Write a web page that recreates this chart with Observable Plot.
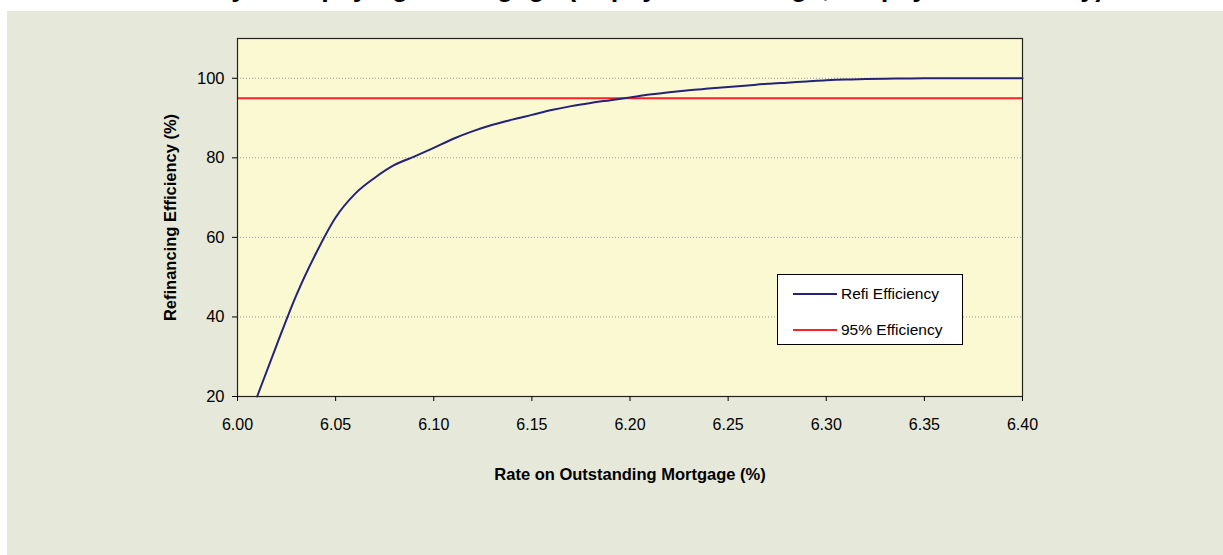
<!DOCTYPE html>
<html>
<head>
<meta charset="utf-8">
<script src="https://cdn.jsdelivr.net/npm/d3@7"></script>
<script src="https://cdn.jsdelivr.net/npm/@observablehq/plot@0.6"></script>
<style>
  html, body { margin: 0; padding: 0; background: #ffffff; }
  body { width: 1223px; height: 555px; position: relative; overflow: hidden; font-family: "Liberation Sans", Arial, sans-serif; }
  #title { position: absolute; left: 0; width: 1223px; top: -28px; line-height: 28px; text-align: center; font: bold 27px "Liberation Sans", Arial, sans-serif; color: #000; white-space: nowrap; }
  #panel { position: absolute; left: 7px; top: 11px; width: 1216px; height: 544px; background: #E6E9DA; }
  #panel svg { position: absolute; left: 0; top: 0; background: transparent; }
  g[aria-label="y-axis label"] text, g[aria-label="x-axis label"] text { font-weight: bold; font-size: 16.5px; }
  g[aria-label="y-axis tick label"] text { font-size: 16.5px; }
  g[aria-label="x-axis tick label"] text { font-size: 16px; }
  #legend { position: absolute; left: 770px; top: 263px; width: 186px; height: 71px; background: #fff; border: 1px solid #000; box-sizing: border-box; font: 15.5px "Liberation Sans", Arial, sans-serif; color: #000; }
  .lg { position: absolute; left: 15px; height: 18px; display: flex; align-items: center; }
  .lg span.sw { display: inline-block; width: 44px; height: 2px; margin-right: 4px; }
</style>
</head>
<body>
<div id="title">Efficiency of Repaying a Mortgage (Repayment Charge, Prepayment Penalty)</div>
<div id="panel"></div>
<script>
const rates = [6.01, 6.02, 6.03, 6.04, 6.05, 6.06, 6.07, 6.08, 6.09, 6.10,
               6.11, 6.12, 6.13, 6.14, 6.15, 6.16, 6.17, 6.18, 6.19, 6.20,
               6.21, 6.22, 6.23, 6.24, 6.25, 6.26, 6.27, 6.28, 6.29, 6.30,
               6.31, 6.32, 6.33, 6.34, 6.35, 6.36, 6.37, 6.38, 6.39, 6.40];
const efficiency = [20, 33, 45.5, 56, 65, 71, 75, 78.2, 80.3, 82.5,
                    84.8, 86.7, 88.3, 89.6, 90.8, 92, 93, 93.8, 94.5, 95.2,
                    95.9, 96.5, 97, 97.4, 97.8, 98.2, 98.6, 98.9, 99.2, 99.5,
                    99.7, 99.8, 99.9, 99.95, 100, 100, 100, 100, 100, 100];
const threshold = [95];
const xTicks = [6.00, 6.05, 6.10, 6.15, 6.20, 6.25, 6.30, 6.35, 6.40];
const yTicks = [20, 40, 60, 80, 100];
const seriesNames = ["Refi Efficiency", "95% Efficiency"];
const seriesColors = ["#23237A", "#FF2222"];

const data = rates.map((r, i) => ({rate: r, eff: efficiency[i]}));

const chart = Plot.plot({
  width: 1216,
  height: 544,
  marginLeft: 230,
  marginTop: 27,
  marginRight: 201,
  marginBottom: 159,
  style: {background: "transparent", fontFamily: "Liberation Sans, Arial, sans-serif", fontSize: "15px", color: "#000"},
  x: {domain: [6.0, 6.4]},
  y: {domain: [20, 110]},
  marks: [
    Plot.frame({fill: "#FAF9D2", stroke: null}),
    Plot.gridY(yTicks.filter(d => d > 20), {stroke: "#9a9a9a", strokeOpacity: 1, strokeDasharray: "1,2"}),
    Plot.ruleY(threshold, {stroke: seriesColors[1], strokeWidth: 2}),
    Plot.line(data, {x: "rate", y: "eff", stroke: seriesColors[0], strokeWidth: 2, curve: "monotone-x"}),
    Plot.frame({stroke: "#222", strokeWidth: 1.2}),
    Plot.axisY({ticks: yTicks, tickSize: 5, tickPadding: 8, label: "Refinancing Efficiency (%)", labelAnchor: "center", labelArrow: "none", labelOffset: 73}),
    Plot.axisX({ticks: xTicks, tickFormat: d3.format(".2f"), tickSize: 5, tickPadding: 17, label: "Rate on Outstanding Mortgage (%)", labelAnchor: "center", labelArrow: "none", labelOffset: 83})
  ]
});
document.getElementById("panel").appendChild(chart);

const legend = document.createElement("div");
legend.id = "legend";
seriesNames.forEach((name, i) => {
  const row = document.createElement("div");
  row.className = "lg";
  row.style.top = (i === 0 ? 10 : 46) + "px";
  const sw = document.createElement("span");
  sw.className = "sw";
  sw.style.background = seriesColors[i];
  row.appendChild(sw);
  row.appendChild(document.createTextNode(name));
  legend.appendChild(row);
});
document.getElementById("panel").appendChild(legend);
</script>
</body>
</html>
